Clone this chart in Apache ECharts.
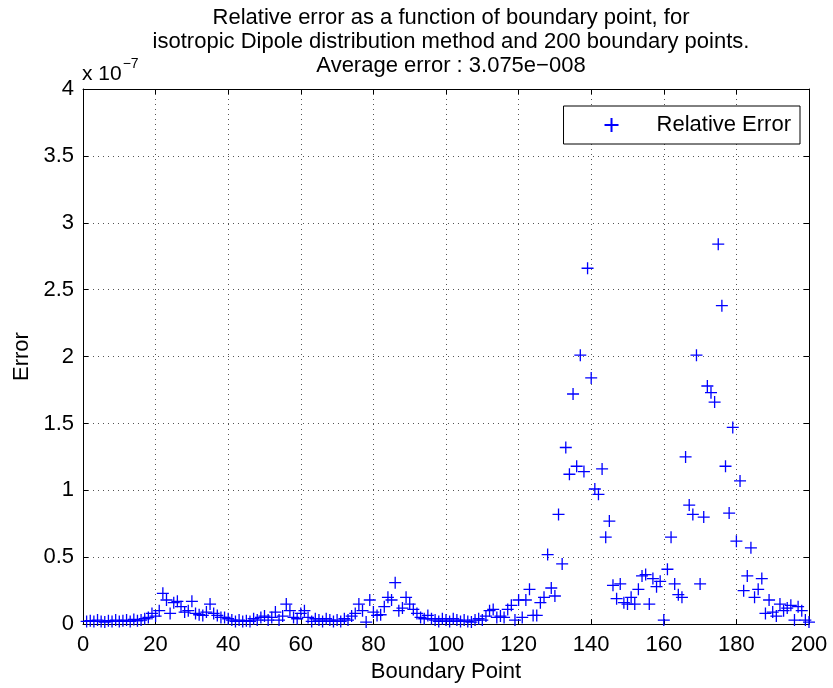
<!DOCTYPE html>
<html>
<head>
<meta charset="utf-8">
<script src="https://cdn.jsdelivr.net/npm/echarts@6/dist/echarts.min.js"></script>
<style>html,body{margin:0;padding:0;background:#fff}#c{width:833px;height:688px}</style>
</head>
<body>
<div id="c"></div>
<script>
// Relative error (units of 1e-7) for boundary points 1..200
const errors001_050 = [0.02,0.025,0.02,0.03,0.02,0.015,0.025,0.02,0.03,0.02,
  0.025,0.03,0.02,0.035,0.025,0.03,0.04,0.05,0.08,0.06,
  0.10,0.23,0.18,0.08,0.16,0.17,0.13,0.09,0.10,0.17,
  0.08,0.07,0.065,0.09,0.15,0.08,0.065,0.05,0.05,0.04,
  0.03,0.02,0.03,0.02,0.025,0.02,0.04,0.03,0.05,0.06];
const errors051_100 = [0.03,0.05,0.09,0.03,0.06,0.15,0.10,0.05,0.04,0.08,
  0.10,0.05,0.02,0.04,0.03,0.02,0.04,0.03,0.02,0.03,
  0.02,0.04,0.03,0.06,0.08,0.15,0.10,0.015,0.18,0.09,
  0.065,0.07,0.13,0.20,0.18,0.31,0.10,0.12,0.20,0.15,
  0.11,0.08,0.05,0.04,0.065,0.04,0.03,0.02,0.04,0.03];
const errors101_150 = [0.02,0.04,0.03,0.02,0.03,0.02,0.015,0.03,0.04,0.03,
  0.06,0.10,0.11,0.05,0.06,0.05,0.11,0.14,0.03,0.18,
  0.05,0.18,0.26,0.065,0.065,0.16,0.20,0.52,0.27,0.21,
  0.82,0.45,1.32,1.12,1.72,1.18,2.01,1.14,2.66,1.84,
  1.01,0.97,1.16,0.65,0.77,0.29,0.19,0.30,0.16,0.15];
const errors151_200 = [0.20,0.15,0.26,0.36,0.37,0.15,0.34,0.28,0.32,0.03,
  0.41,0.65,0.30,0.22,0.20,1.25,0.89,0.82,2.01,0.30,
  0.80,1.78,1.73,1.66,2.84,2.38,1.18,0.83,1.47,0.62,
  1.07,0.25,0.36,0.57,0.20,0.26,0.34,0.08,0.18,0.09,
  0.06,0.15,0.10,0.12,0.14,0.03,0.13,0.10,0.03,0.015];
const xTicks = [0,20,40,60,80,100,120,140,160,180,200];
const yTicks = [0,0.5,1,1.5,2,2.5,3,3.5,4];
const titleLines = ['Relative error as a function of boundary point, for',
  'isotropic Dipole distribution method and 200 boundary points.',
  'Average error : 3.075e\u2212008'];

const errors = errors001_050.concat(errors051_100, errors101_150, errors151_200);
const points = errors.map((v, i) => [i + 1, v]);

const chart = echarts.init(document.getElementById('c'), null, {renderer: 'canvas'});
const font = 'Liberation Sans, Arial, Helvetica, sans-serif';
const FS = 22;
const gridLine = {show: true, lineStyle: {color: '#555', width: 1, type: [1, 4]}};
const plus = 'path://M5,0L5,10M0,5L10,5';
const fmt = v => (Math.abs(v - Math.round(v)) < 1e-9 ? String(Math.round(v)) : String(v));

chart.setOption({
  animation: false,
  backgroundColor: '#fff',
  textStyle: {fontFamily: font, color: '#000'},
  title: {
    text: titleLines.join('\n'),
    left: 446, top: 1, textAlign: 'center',
    textStyle: {fontFamily: font, fontSize: FS, fontWeight: 'normal', color: '#000', lineHeight: 24}
  },
  graphic: [{
    type: 'text', left: 82, top: 57,
    style: {
      text: '{b|x 10}{s|\u22127}',
      rich: {
        b: {fontFamily: font, fontSize: 21, fill: '#000', verticalAlign: 'bottom', lineHeight: 28},
        s: {fontFamily: font, fontSize: 14, fill: '#000', verticalAlign: 'top', lineHeight: 28, padding: [0, 0, 13, 1]}
      }
    }
  }],
  legend: {
    right: 33, top: 106,
    orient: 'horizontal',
    backgroundColor: '#fff',
    borderColor: '#000', borderWidth: 1, borderRadius: 0,
    padding: [8, 9, 8, 40],
    itemWidth: 14, itemHeight: 14, itemGap: 5,
    textStyle: {fontFamily: font, fontSize: FS, color: '#000', lineHeight: 22, padding: [0, 0, 0, 33]},
    data: [{name: 'Relative Error', icon: plus}]
  },
  grid: {left: 83, right: 24, top: 89, bottom: 61, containLabel: false},
  xAxis: [{
    type: 'value', min: 0, max: 200, interval: 20,
    name: 'Boundary Point', nameLocation: 'middle', nameGap: 35,
    nameTextStyle: {fontFamily: font, fontSize: FS, color: '#000'},
    axisLine: {show: true, onZero: false, lineStyle: {color: '#000', width: 1}},
    axisTick: {show: true, inside: true, length: 5, lineStyle: {color: '#000'}},
    axisLabel: {fontFamily: font, fontSize: FS, color: '#000', margin: 10, formatter: v => (xTicks.includes(v) ? fmt(v) : '')},
    splitLine: gridLine
  }, {
    type: 'value', min: 0, max: 200, interval: 20, position: 'top',
    axisLine: {show: true, onZero: false, lineStyle: {color: '#000', width: 1}},
    axisTick: {show: true, inside: true, length: 5, lineStyle: {color: '#000'}},
    axisLabel: {show: false}, splitLine: {show: false}
  }],
  yAxis: [{
    type: 'value', min: 0, max: 4, interval: 0.5,
    name: 'Error', nameLocation: 'middle', nameGap: 50, nameRotate: 90,
    nameTextStyle: {fontFamily: font, fontSize: FS, color: '#000'},
    axisLine: {show: true, onZero: false, lineStyle: {color: '#000', width: 1}},
    axisTick: {show: true, inside: true, length: 5, lineStyle: {color: '#000'}},
    axisLabel: {fontFamily: font, fontSize: FS, color: '#000', margin: 9, formatter: v => (yTicks.includes(v) ? fmt(v) : '')},
    splitLine: gridLine
  }, {
    type: 'value', min: 0, max: 4, interval: 0.5, position: 'right',
    axisLine: {show: true, onZero: false, lineStyle: {color: '#000', width: 1}},
    axisTick: {show: true, inside: true, length: 5, lineStyle: {color: '#000'}},
    axisLabel: {show: false}, splitLine: {show: false}
  }],
  series: [{
    name: 'Relative Error',
    type: 'scatter',
    xAxisIndex: 0, yAxisIndex: 0,
    data: points,
    symbol: plus,
    symbolSize: 12,
    itemStyle: {color: 'rgba(0,0,0,0)', borderColor: '#0000ff', borderWidth: 1.3, opacity: 1},
    emphasis: {disabled: true},
    clip: false
  }]
});
</script>
</body>
</html>
